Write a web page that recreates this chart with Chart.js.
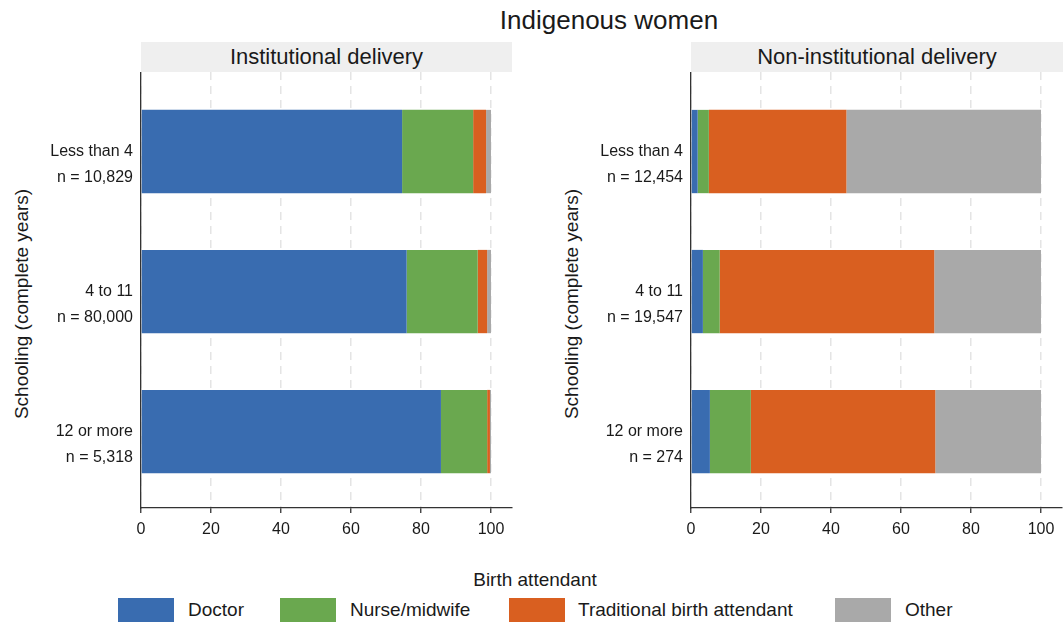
<!DOCTYPE html>
<html>
<head>
<meta charset="utf-8">
<title>Indigenous women – birth attendant by schooling</title>
<script src="https://cdn.jsdelivr.net/npm/chart.js@4/dist/chart.umd.min.js"></script>
<style>
  html, body { margin: 0; padding: 0; background: #fff; }
  body { width: 1063px; height: 626px; position: relative; overflow: hidden;
         font-family: "Liberation Sans", Arial, sans-serif; color: #1a1a1a; }
  .abs { position: absolute; }
  #title { left: 409px; width: 400px; top: 4px; text-align: center; font-size: 26px; line-height: 32px; }
  .strip { top: 42px; height: 30px; background: #efefef; text-align: center;
           font-size: 22px; line-height: 30px; }
  .ytitle { width: 300px; height: 24px; line-height: 24px; font-size: 19px; text-align: center;
            transform: translate(-50%, -50%) rotate(-90deg); }
  canvas { position: absolute; top: 72px; }
  .swatch { top: 598px; width: 56px; height: 24px; }
  .litem { top: 598px; height: 24px; line-height: 24px; font-size: 19px; white-space: nowrap; }
  #ltitle { left: 385px; width: 300px; top: 568px; text-align: center; font-size: 19px; line-height: 24px; }
</style>
</head>
<body>
<div id="title" class="abs">Indigenous women</div>

<div class="abs strip" style="left:141px;width:371px;">Institutional delivery</div>
<div class="abs strip" style="left:691px;width:372px;">Non-institutional delivery</div>

<div class="abs ytitle" style="left:22px;top:304px;">Schooling (complete years)</div>
<div class="abs ytitle" style="left:572px;top:304px;">Schooling (complete years)</div>

<canvas id="inst" width="530" height="470" style="left:0px;"></canvas>
<canvas id="noninst" width="513" height="470" style="left:550px;"></canvas>

<div id="ltitle" class="abs">Birth attendant</div>
<div id="legend"></div>

<script>
// Schooling groups (rows, top to bottom) and sample sizes
const schooling = ["Less than 4", "4 to 11", "12 or more"];
const nInstitutional = ["n = 10,829", "n = 80,000", "n = 5,318"];
const nNonInstitutional = ["n = 12,454", "n = 19,547", "n = 274"];

// Birth attendant categories and colours
const attendants = ["Doctor", "Nurse/midwife", "Traditional birth attendant", "Other"];
const attendantColors = ["#396cb0", "#6aa84f", "#d95f20", "#a9a9a9"];

// Percent of births by attendant — institutional delivery
const instDoctor = [74.6, 75.9, 85.7];
const instNurse = [20.3, 20.3, 13.2];
const instTraditional = [3.7, 2.7, 0.8];
const instOther = [1.4, 1.1, 0.3];

// Percent of births by attendant — non-institutional delivery
const nonDoctor = [1.9, 3.4, 5.4];
const nonNurse = [3.2, 4.8, 11.7];
const nonTraditional = [39.3, 61.3, 52.7];
const nonOther = [55.6, 30.5, 30.2];

// Axis ticks
const xTicks = [0, 20, 40, 60, 80, 100];

const FONT = "'Liberation Sans', Arial, sans-serif";
const TEXT = "#1a1a1a";
const AXIS = "#333333";

function buildDatasets(series) {
  return series.map((vals, k) => ({
    label: attendants[k],
    data: vals.map((v, i) => ({ x: v, y: i })),
    backgroundColor: attendantColors[k],
    borderWidth: 0,
    barPercentage: 0.595,
    categoryPercentage: 1.0
  }));
}

function makeChart(id, series, nLabels) {
  const canvas = document.getElementById(id);
  const plotHeight = 436;
  return new Chart(canvas, {
    type: "bar",
    data: { datasets: buildDatasets(series) },
    options: {
      indexAxis: "y",
      responsive: false,
      animation: false,
      devicePixelRatio: 1,
      layout: { padding: { top: 0, right: canvas.width - 141 - 371, bottom: 0, left: 0 } },
      plugins: { legend: { display: false }, tooltip: { enabled: false }, title: { display: false } },
      scales: {
        x: {
          type: "linear",
          stacked: true,
          min: 0,
          max: 106,
          afterBuildTicks: s => { s.ticks = xTicks.map(v => ({ value: v })); },
          afterFit: s => { s.height = canvas.height - plotHeight; s.paddingLeft = 0; s.paddingRight = 0; },
          ticks: { color: TEXT, font: { family: FONT, size: 16 }, padding: 7, maxRotation: 0 },
          grid: {
            color: "#e4e4e4", lineWidth: 1.5,
            drawTicks: true, tickLength: 5, tickColor: AXIS, tickWidth: 1.3, tickBorderDash: []
          },
          border: { display: true, color: AXIS, width: 1.3, dash: [8, 6] }
        },
        y: {
          type: "linear",
          stacked: true,
          reverse: true,
          offset: false,
          min: -0.568,
          max: 2.546,
          afterBuildTicks: s => { s.ticks = schooling.map((_, i) => ({ value: i })); },
          afterFit: s => { s.width = 141; s.paddingTop = 0; s.paddingBottom = 0; },
          ticks: {
            color: TEXT,
            font: { family: FONT, size: 16, lineHeight: 1.625 },
            padding: 8,
            labelOffset: 13,
            callback: v => [schooling[v], nLabels[v]]
          },
          grid: { display: false, drawTicks: false, offset: false },
          border: { display: true, color: AXIS, width: 1.3 }
        }
      }
    }
  });
}

makeChart("inst", [instDoctor, instNurse, instTraditional, instOther], nInstitutional);
makeChart("noninst", [nonDoctor, nonNurse, nonTraditional, nonOther], nNonInstitutional);

// Shared legend for both panels
const legendPos = [[118, 188], [280, 350], [509, 578], [835, 905]];
const legendEl = document.getElementById("legend");
attendants.forEach((name, k) => {
  const sw = document.createElement("div");
  sw.className = "abs swatch";
  sw.style.left = legendPos[k][0] + "px";
  sw.style.background = attendantColors[k];
  legendEl.appendChild(sw);
  const lab = document.createElement("div");
  lab.className = "abs litem";
  lab.style.left = legendPos[k][1] + "px";
  lab.textContent = name;
  legendEl.appendChild(lab);
});
</script>
</body>
</html>
